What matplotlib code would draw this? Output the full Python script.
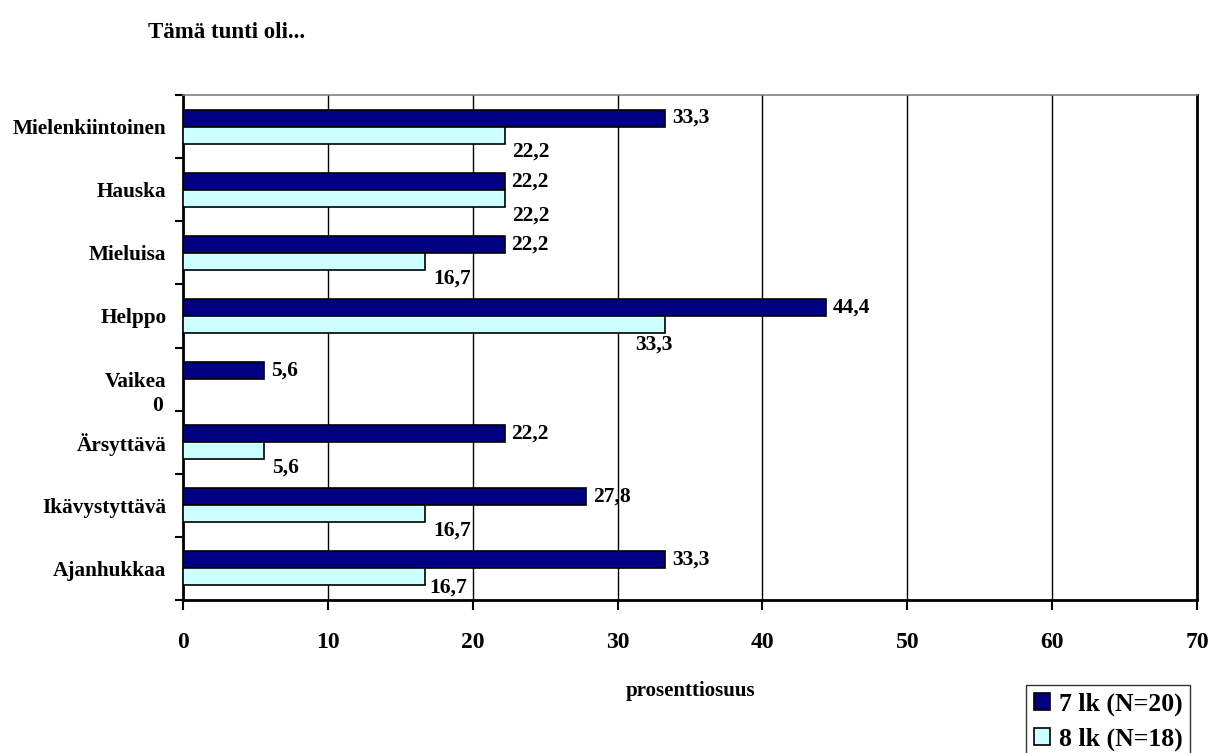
import matplotlib.pyplot as plt
import numpy as np

plt.rcParams['font.family'] = ['Liberation Serif', 'DejaVu Serif']
plt.rcParams['font.weight'] = 'bold'

categories = ['Mielenkiintoinen', 'Hauska', 'Mieluisa', 'Helppo',
              'Vaikea', 'Ärsyttävä', 'Ikävystyttävä', 'Ajanhukkaa']
lk7 = [33.3, 22.2, 22.2, 44.4, 5.6, 22.2, 27.8, 33.3]
lk8 = [22.2, 22.2, 16.7, 33.3, 0, 5.6, 16.7, 16.7]
series_names = ['7 lk (N=20)', '8 lk (N=18)']

fig = plt.figure(figsize=(12.12, 7.53), dpi=100)
ax = fig.add_axes([183 / 1212, 1 - 600 / 753, 1014 / 1212, 505 / 753])

y = np.arange(len(categories))
h = 0.27
bars7 = ax.barh(y - h / 2, lk7, height=h, color='#000080', edgecolor='black',
                linewidth=1.2, label=series_names[0], zorder=3)
bars8 = ax.barh(y + h / 2, lk8, height=h, color='#CCFFFF', edgecolor='black',
                linewidth=1.2, label=series_names[1], zorder=3)

# value labels
fmt = lambda v: ('%.1f' % v).replace('.', ',') if v else '0'
for b, v in zip(bars7, lk7):
    ax.annotate(fmt(v), (v, b.get_y() + b.get_height() / 2), xytext=(7, 0),
                textcoords='offset pixels', ha='left', va='center', fontsize=15.5)
for i, (b, v) in enumerate(zip(bars8, lk8)):
    dx, dy = 8, -17
    if categories[i] == 'Helppo':
        dx, dy = -30, -20
    if categories[i] == 'Ajanhukkaa':
        dx, dy = 4, -11
    if v == 0:
        dx, dy = -31, -18
    ax.annotate(fmt(v), (v, b.get_y() + b.get_height() / 2), xytext=(dx, dy),
                textcoords='offset pixels', ha='left', va='center', fontsize=15.5)

ax.set_xlim(0, 70)
ax.set_xticks(range(0, 71, 10))
ax.set_ylim(len(categories) - 0.5, -0.5)
ax.set_yticks(np.arange(-0.5, len(categories), 1))
ax.set_yticklabels([])
ax.set_yticks(y, categories, minor=True)
ax.tick_params(axis='y', which='minor', length=0, pad=12, labelsize=15.3)
ax.tick_params(axis='y', which='major', length=6, width=1.5, direction='out')
ax.tick_params(axis='x', length=7, width=1.5, direction='out', labelsize=17, pad=16)
ax.grid(axis='x', color='black', linewidth=1, zorder=0)

ax.spines['left'].set_linewidth(2)
ax.spines['bottom'].set_linewidth(2)
ax.spines['top'].set_color('#808080')
ax.spines['top'].set_linewidth(1.2)
ax.spines['right'].set_linewidth(2)

ax.set_xlabel('prosenttiosuus', fontsize=15, fontweight='bold', labelpad=20)
fig.text(148 / 1212, 1 - 33 / 753, 'Tämä tunti oli...', fontsize=16.5,
         fontweight='bold', ha='left', va='center')

fig.legend(loc='upper right', bbox_to_anchor=(1190 / 1212, 1 - 685 / 753),
           fontsize=18.5, frameon=True, fancybox=False, edgecolor='black',
           handlelength=0.62, handleheight=0.62, handletextpad=0.35,
           labelspacing=0.45, borderpad=0.3, borderaxespad=0)

fig.savefig('out.png', dpi=100)
